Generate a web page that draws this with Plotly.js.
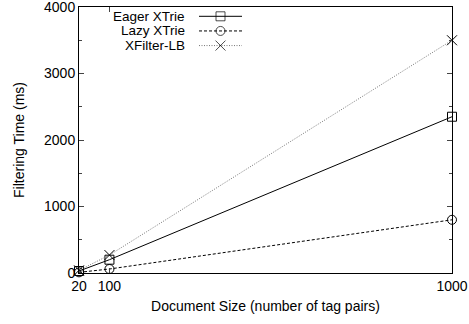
<!DOCTYPE html>
<html><head><meta charset="utf-8">
<script src="https://cdn.plot.ly/plotly-3.0.1.min.js"></script>
<style>html,body{margin:0;padding:0;background:#fff;}#c{width:469px;height:324px;}</style>
</head><body><div id="c"></div>
<script>
const docSizes = [20, 100, 1000];
const eager = [30, 200, 2350];
const lazy = [10, 60, 800];
const xfilter = [40, 270, 3500];
const names = ["Eager XTrie", "Lazy XTrie", "XFilter-LB"];
const xTicks = [20, 100, 1000];
const yTicks = [0, 1000, 2000, 3000, 4000];

const FONT = 'Liberation Sans, Arial, sans-serif';
const styles = [
  {color:'#000', dash:'solid', symbol:'square-open', size:9},
  {color:'#000', dash:'3px,2px', symbol:'circle-open', size:9},
  {color:'#777', dash:'1px,1.5px', symbol:'x-thin-open', size:10}
];
const series = [eager, lazy, xfilter];
const traces = series.map((s,i)=>({
  x: docSizes, y: s, mode:'lines+markers', name:names[i], showlegend:false,
  line:{color:styles[i].color, width:1, dash:styles[i].dash},
  marker:{symbol:styles[i].symbol, size:styles[i].size, color:'#000', line:{width:1, color:'#000'}},
  cliponaxis:false
}));
// legend samples on a hidden overlay axis (0..1 in y)
const legY = [0.965, 0.91, 0.855];
const annotations = [];
names.forEach((n,i)=>{
  traces.push({
    x:[0,0.5,1], y:[legY[i],legY[i],legY[i]], xaxis:'x2', yaxis:'y2',
    mode:'lines+markers', showlegend:false, hoverinfo:'skip',
    line:{color:styles[i].color, width:1, dash:styles[i].dash},
    marker:{symbol:styles[i].symbol, size:[0,styles[i].size,0], color:'#000', line:{width:1,color:'#000'}}
  });
  annotations.push({xref:'paper', yref:'paper', x:(186-79)/373, y:legY[i], xanchor:'right', yanchor:'middle',
    text:n, showarrow:false, borderpad:0, font:{family:FONT, size:13.5, color:'#000'}});
});

const layout = {
  width:469, height:324,
  margin:{l:79, r:17, t:7, b:51},
  paper_bgcolor:'#fff', plot_bgcolor:'#fff',
  font:{family:FONT, size:14, color:'#000'},
  showlegend:false,
  xaxis:{range:[20,1000], tickvals:xTicks, ticktext:xTicks.map(String), ticks:'inside', ticklen:5,
    showline:true, linecolor:'#000', linewidth:1, mirror:'ticks', showgrid:false, zeroline:false,
    tickfont:{size:14}, ticklabeloverflow:'allow',
    title:{text:'Document Size (number of tag pairs)', font:{size:14}, standoff:8}},
  yaxis:{range:[0,4000], tickvals:yTicks, ticks:'inside', ticklen:5,
    showline:true, linecolor:'#000', linewidth:1, mirror:'ticks', showgrid:false, zeroline:false,
    tickfont:{size:14}, ticklabeloverflow:'allow',
    minor:{dtick:500, ticks:'inside', ticklen:3, showgrid:false},
    title:{text:'Filtering Time (ms)', font:{size:14}, standoff:16}},
  xaxis2:{overlaying:'x', visible:false, anchor:'y2'},
  yaxis2:{overlaying:'y', range:[0,1], visible:false, anchor:'x2'},
  annotations: annotations
};
// map 0..1 on x2 to pixels 199..242
layout.xaxis2.range = [ -(199-79)/(242-199), (452-199)/(242-199) ];
Plotly.newPlot('c', traces, layout, {staticPlot:true});
</script></body></html>
